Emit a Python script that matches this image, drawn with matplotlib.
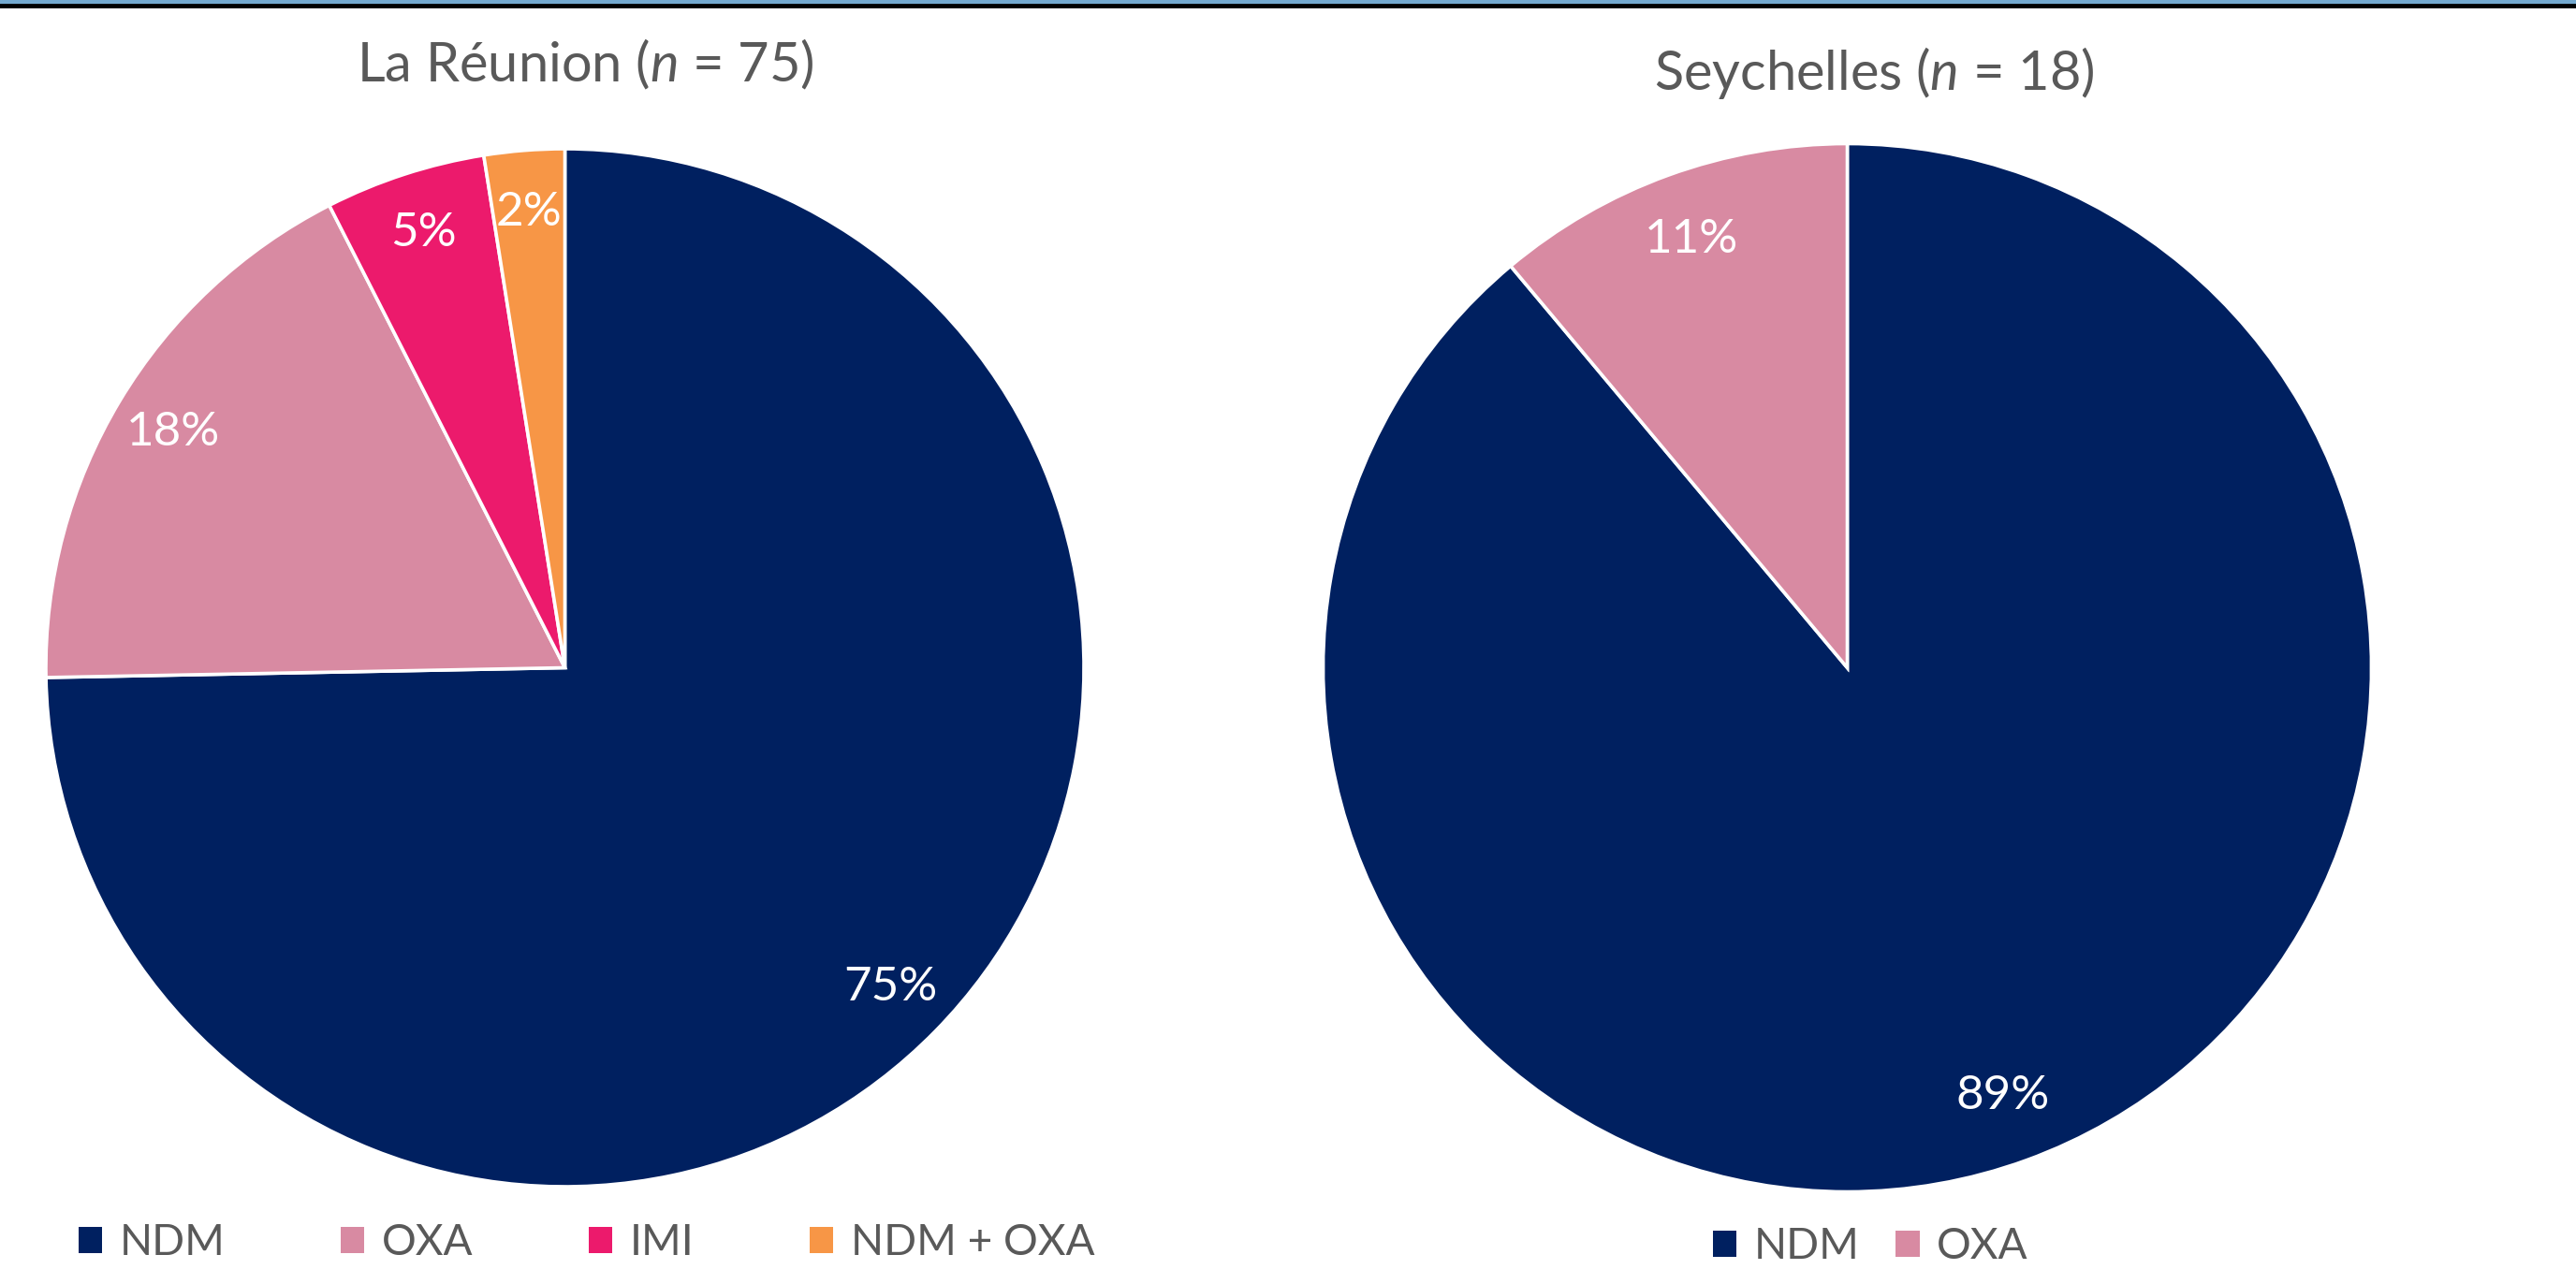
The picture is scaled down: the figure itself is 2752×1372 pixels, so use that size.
import matplotlib.pyplot as plt
from matplotlib.patches import Patch, Rectangle

plt.rcParams['font.family'] = ['Lato', 'DejaVu Sans']
plt.rcParams['mathtext.fontset'] = 'custom'
plt.rcParams['mathtext.rm'] = 'Lato'
plt.rcParams['mathtext.it'] = 'Lato:italic'

# data
reunion_names = ['NDM', 'OXA', 'IMI', 'NDM + OXA']
reunion_share = [74.7, 17.8, 5.0, 2.5]
reunion_labels = ['75%', '18%', '5%', '2%']

seych_names = ['NDM', 'OXA']
seych_share = [88.9, 11.1]
seych_labels = ['89%', '11%']

colors = {'NDM': '#002060', 'OXA': '#d88aa2', 'IMI': '#ec1a6c', 'NDM + OXA': '#f79646'}
grey = '#595959'

W, H = 2752, 1372
fig = plt.figure(figsize=(W / 200, H / 200), dpi=200)

# band on top
fig.patches.append(Rectangle((0, 1 - 5 / H), 1, 5 / H, transform=fig.transFigure,
                             color='#74a9cf', zorder=5))
fig.patches.append(Rectangle((0, 1 - 7 / H), 1, 2 / H, transform=fig.transFigure,
                             color='black', zorder=5))


def draw_pie(cx, cy, r, shares, names, labels, pctd):
    ax = fig.add_axes([(cx - r) / W, 1 - (cy + r) / H, 2 * r / W, 2 * r / H])
    it = iter(labels)
    ax.pie(shares, colors=[colors[n] for n in names], startangle=90, counterclock=False,
           autopct=lambda p: next(it), pctdistance=pctd,
           wedgeprops=dict(edgecolor='white', linewidth=1.3),
           textprops=dict(color='white', fontsize=18.4))
    ax.set_xlim(-1, 1)
    ax.set_ylim(-1, 1)
    ax.set_aspect('auto')
    ax.axis('off')
    return ax


draw_pie(603.5, 713.5, 554.5, reunion_share, reunion_names, reunion_labels, 0.88)
draw_pie(1973.5, 713.5, 560, seych_share, seych_names, seych_labels, 0.87)

fig.text(625 / W, 1 - 87 / H, 'La Réunion ($n$ = 75)', ha='center', va='baseline',
         fontsize=20.8, color=grey)
fig.text(2002 / W, 1 - 96 / H, 'Seychelles ($n$ = 18)', ha='center', va='baseline',
         fontsize=20.8, color=grey)

h1 = [Patch(facecolor=colors[n], label=n) for n in reunion_names]
fig.legend(handles=h1, ncol=4, loc='center left', bbox_to_anchor=(84 / W, 1 - 1328 / H),
           frameon=False, fontsize=16.5, labelcolor=grey, borderpad=0, borderaxespad=0,
           handlelength=0.55, handleheight=0.55, handletextpad=0.4, columnspacing=2.7)

h2 = [Patch(facecolor=colors[n], label=n) for n in seych_names]
fig.legend(handles=h2, ncol=2, loc='center left', bbox_to_anchor=(1830 / W, 1 - 1332 / H),
           frameon=False, fontsize=16.5, labelcolor=grey, borderpad=0, borderaxespad=0,
           handlelength=0.55, handleheight=0.55, handletextpad=0.4, columnspacing=0.85)

fig.savefig('out.png', dpi=200)
